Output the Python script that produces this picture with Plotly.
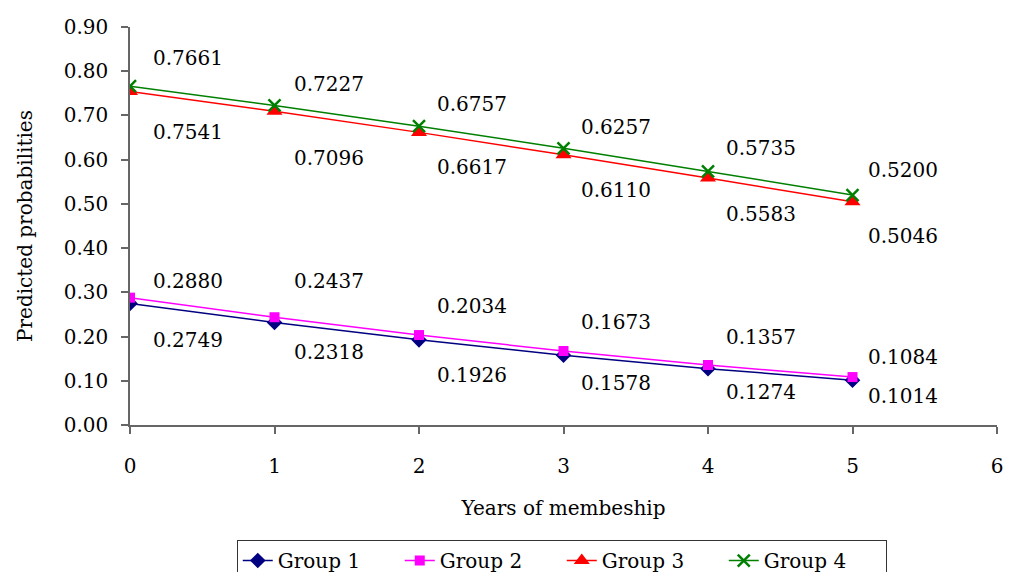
import plotly.graph_objects as go

years = [0, 1, 2, 3, 4, 5]
group1 = [0.2749, 0.2318, 0.1926, 0.1578, 0.1274, 0.1014]
group2 = [0.2880, 0.2437, 0.2034, 0.1673, 0.1357, 0.1084]
group3 = [0.7541, 0.7096, 0.6617, 0.6110, 0.5583, 0.5046]
group4 = [0.7661, 0.7227, 0.6757, 0.6257, 0.5735, 0.5200]
names = ["Group 1", "Group 2", "Group 3", "Group 4"]
y_ticks = [0.0, 0.1, 0.2, 0.3, 0.4, 0.5, 0.6, 0.7, 0.8, 0.9]
x_ticks = [0, 1, 2, 3, 4, 5, 6]

# label offsets (px) per series/point
label_dy = {
    "Group 1": [-37, -30, -35, -28, -23, -16],
    "Group 2": [17, 36, 29, 29, 28, 20],
    "Group 3": [-40, -47, -35, -35, -36, -34],
    "Group 4": [28, 21, 22, 21, 23, 25],
}
label_dx = [58, 54, 53, 52, 53, 50]

FONT = "DejaVu Serif"
FS = 20

styles = {
    "Group 1": dict(color="#000080", symbol="diamond", size=12, lw=1.5),
    "Group 2": dict(color="#FF00FF", symbol="square", size=10, lw=1.5),
    "Group 3": dict(color="#FF0000", symbol="triangle-up", size=14, lw=1.5),
    "Group 4": dict(color="#008000", symbol="x-thin", size=12, lw=1.5),
}

series = {"Group 1": group1, "Group 2": group2, "Group 3": group3, "Group 4": group4}

fig = go.Figure()
for name in names:
    s = styles[name]
    marker = dict(symbol=s["symbol"], size=s["size"], color=s["color"])
    if s["symbol"] == "x-thin":
        marker["line"] = dict(color=s["color"], width=2.5)
    fig.add_trace(go.Scatter(
        x=years, y=series[name], mode="lines+markers", name=name,
        line=dict(color=s["color"], width=s["lw"]), marker=marker,
    ))

annotations = []
for name in names:
    for i, (xv, yv) in enumerate(zip(years, series[name])):
        annotations.append(dict(
            x=xv, y=yv, xref="x", yref="y", text=f"{yv:.4f}",
            showarrow=False, xanchor="center", yanchor="middle",
            xshift=label_dx[i], yshift=label_dy[name][i],
            font=dict(family=FONT, size=FS, color="black"),
        ))

fig.update_layout(
    width=1004, height=564,
    margin=dict(l=122, r=15, t=19, b=147, autoexpand=False),
    paper_bgcolor="white", plot_bgcolor="white",
    font=dict(family=FONT, size=FS, color="black"),
    showlegend=True,
    legend=dict(
        orientation="h", x=0.498, xanchor="center", y=-0.289, yanchor="top",
        bordercolor="#333333", borderwidth=1, font=dict(family=FONT, size=FS),
        tracegroupgap=0, entrywidth=117, entrywidthmode="pixels",
    ),
    annotations=annotations,
)
fig.update_xaxes(
    range=[0, 6], tickvals=x_ticks, ticktext=[str(v) for v in x_ticks],
    showgrid=False, zeroline=False, showline=True, linecolor="#666666", linewidth=1.5,
    ticks="outside", tickcolor="#666666", ticklen=7, tickwidth=1.5,
    ticklabelstandoff=15, automargin=False, ticklabeloverflow="allow",
    title=dict(text="Years of membeship", standoff=24, font=dict(family=FONT, size=FS)),
)
fig.update_yaxes(
    range=[0, 0.9], tickvals=y_ticks, ticktext=[f"{v:.2f}" for v in y_ticks],
    showgrid=False, zeroline=False, showline=True, linecolor="#666666", linewidth=1.5,
    ticks="outside", tickcolor="#666666", ticklen=7, tickwidth=1.5,
    ticklabelstandoff=9, automargin=False,
    title=dict(text="Predicted probabilities", standoff=26, font=dict(family=FONT, size=FS)),
)

fig.write_html("out.html")
